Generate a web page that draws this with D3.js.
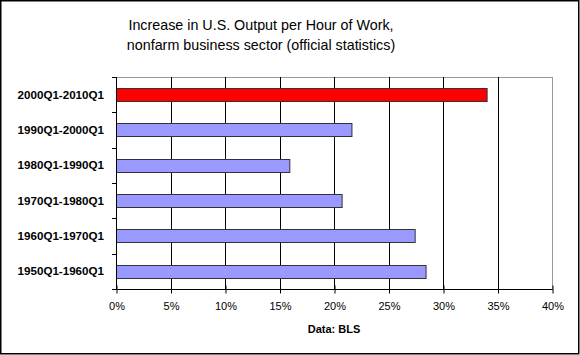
<!DOCTYPE html>
<html>
<head>
<meta charset="utf-8">
<script src="https://cdn.jsdelivr.net/npm/d3@7"></script>
<style>
body { margin: 0; background: #fff; }
svg { display: block; font-family: Arial, "Liberation Sans", sans-serif; }
</style>
</head>
<body>
<script>
//chart data
var periods = ["2000Q1-2010Q1", "1990Q1-2000Q1", "1980Q1-1990Q1", "1970Q1-1980Q1", "1960Q1-1970Q1", "1950Q1-1960Q1"];
var increase = [34.0, 21.6, 15.9, 20.7, 27.4, 28.4];
var barColors = ["#ff0000", "#9999ff", "#9999ff", "#9999ff", "#9999ff", "#9999ff"];
var ticks = [0, 5, 10, 15, 20, 25, 30, 35, 40];

var w = 580, h = 355;
var plotLeft = 116, plotRight = 552, plotTop = 77, plotBottom = 289;

var svg = d3.select("body").append("svg")
    .attr("width", w)
    .attr("height", h);

//outer frame
svg.append("rect")
    .attr("x", 0.75).attr("y", 0.75)
    .attr("width", w - 2).attr("height", h - 2)
    .attr("fill", "#fff")
    .attr("stroke", "#000")
    .attr("stroke-width", 1.5);

//title
svg.append("text")
    .attr("x", 261).attr("y", 30)
    .attr("text-anchor", "middle")
    .style("font-size", "14.3px")
    .text("Increase in U.S. Output per Hour of Work,");
svg.append("text")
    .attr("x", 261).attr("y", 50)
    .attr("text-anchor", "middle")
    .style("font-size", "14.3px")
    .text("nonfarm business sector (official statistics)");

var xScale = d3.scaleLinear().domain([0, 40]).range([plotLeft, plotRight]);
var yScale = d3.scaleBand().domain(periods).range([plotTop, plotBottom]).paddingInner(0.62).paddingOuter(0.31);

//plot border (gray)
svg.append("rect")
    .attr("x", plotLeft + 0.5).attr("y", plotTop + 0.5)
    .attr("width", plotRight - plotLeft).attr("height", plotBottom - plotTop)
    .attr("fill", "none")
    .attr("stroke", "#999");

//gridlines
svg.selectAll(".grid")
    .data(ticks.slice(1, -1))
    .enter()
    .append("line")
    .attr("x1", function(d) { return Math.round(xScale(d)) + 0.5; })
    .attr("x2", function(d) { return Math.round(xScale(d)) + 0.5; })
    .attr("y1", plotTop).attr("y2", plotBottom)
    .attr("stroke", "#000");

//bars
svg.selectAll(".bar")
    .data(periods)
    .enter()
    .append("rect")
    .attr("x", xScale(0) + 0.5)
    .attr("y", function(d) { return Math.round(yScale(d)) + 0.5; })
    .attr("width", function(d, i) { return xScale(increase[i]) - xScale(0); })
    .attr("height", Math.round(yScale.bandwidth()))
    .attr("fill", function(d, i) { return barColors[i]; })
    .attr("stroke", "#333")
    .attr("stroke-width", 1);

//x axis
var xAxis = d3.axisBottom(xScale)
    .tickValues(ticks)
    .tickSize(4)
    .tickFormat(function(d) { return d + "%"; });
var gx = svg.append("g")
    .attr("transform", "translate(0.5," + (plotBottom + 0.5) + ")")
    .call(xAxis);
gx.select(".domain").attr("stroke", "#000").attr("d", "M" + plotLeft + ",0H" + plotRight);
gx.selectAll(".tick line").attr("y1", -4).attr("stroke", "#000");
gx.selectAll(".tick text")
    .attr("y", 13)
    .style("font-size", "11px")
    .style("font-family", "Arial, 'Liberation Sans', sans-serif")
    .attr("fill", "#000");

//y axis: ticks at category boundaries
var yAxisLine = svg.append("g");
yAxisLine.append("line")
    .attr("x1", plotLeft + 0.5).attr("x2", plotLeft + 0.5)
    .attr("y1", plotTop).attr("y2", plotBottom)
    .attr("stroke", "#000");
var step = (plotBottom - plotTop) / periods.length;
yAxisLine.selectAll(".ytick")
    .data(d3.range(periods.length + 1))
    .enter()
    .append("line")
    .attr("x1", plotLeft - 4).attr("x2", plotLeft)
    .attr("y1", function(d) { return Math.round(plotTop + d * step) + 0.5; })
    .attr("y2", function(d) { return Math.round(plotTop + d * step) + 0.5; })
    .attr("stroke", "#000");

//category labels
svg.selectAll(".ylabel")
    .data(periods)
    .enter()
    .append("text")
    .attr("x", plotLeft - 12)
    .attr("y", function(d) { return yScale(d) + yScale.bandwidth() / 2; })
    .attr("dy", "0.35em")
    .attr("text-anchor", "end")
    .style("font-size", "11.6px")
    .style("font-weight", "bold")
    .text(function(d) { return d; });

//source note
svg.append("text")
    .attr("x", 334).attr("y", 333)
    .attr("text-anchor", "middle")
    .style("font-size", "11px")
    .style("font-weight", "bold")
    .text("Data: BLS");
</script>
</body>
</html>
